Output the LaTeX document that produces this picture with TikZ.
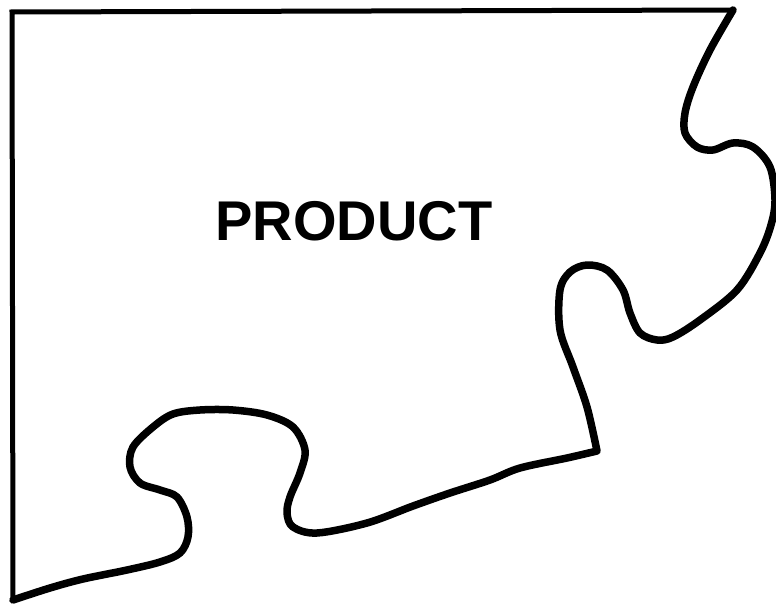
\documentclass[tikz,border=0pt]{standalone}
\usepackage{fontspec}
\setmainfont{Liberation Sans}
\begin{document}
\begin{tikzpicture}[x=1pt,y=-1pt,
  piece/.style={line width=7.5pt,line join=round,line cap=round,black},
  edge/.style={line width=5pt,line join=miter,line cap=round,black},
  label/.style={font=\fontsize{56}{62}\selectfont\bfseries,inner sep=0pt}]
\useasboundingbox (0,0) rectangle (776,604);
\coordinate (bl) at (13,600);
\coordinate (tl) at (12,12);
\coordinate (tr) at (733,10);
\coordinate (br) at (597,451);
\draw[edge] (bl) -- (tl) -- (tr);
\draw[piece] plot[smooth,tension=0.55] coordinates {(733,10) (710,50) (693,87) (685,113) (685,133) (697,147) (713,150) (733,143) (753,147) (770,167) (775,200) (771,225) (760,253) (737,290) (700,320) (673,337) (657,340) (640,333) (630,313) (623,290) (607,270) (587,265) (570,272) (560,290) (560,330) (573,367) (587,407) (597,451)}
  -- plot[smooth,tension=0.55] coordinates {(597,451) (567,458) (520,468) (490,480) (450,493) (413,506) (367,523) (317,533) (293,527) (287,513) (290,497) (300,473) (305,450) (293,427) (267,415) (233,410) (200,410) (173,414) (153,427) (133,447) (130,467) (140,483) (160,490) (177,497) (187,517) (188,537) (180,553) (160,562) (127,570) (83,579) (50,588) (13,600)};
\node[label] (title) at (354,221) {PRODUCT};
\end{tikzpicture}
\end{document}
